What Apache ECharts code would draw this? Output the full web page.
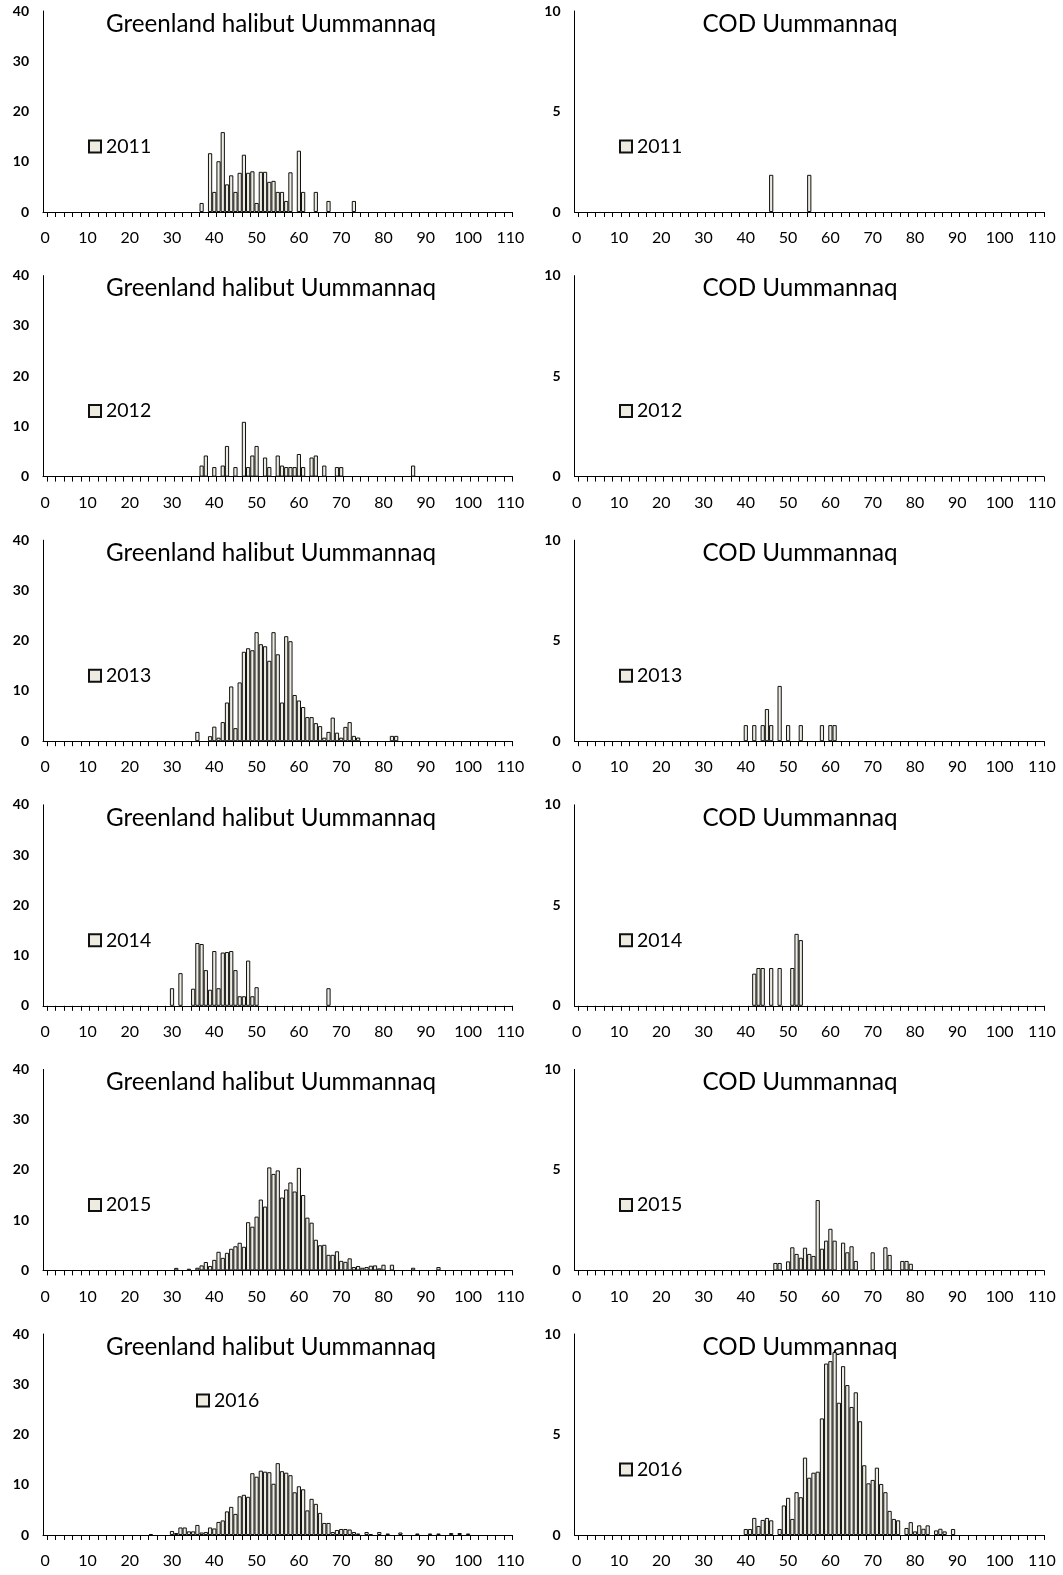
<!DOCTYPE html>
<html>
<head>
<meta charset="utf-8">
<script src="https://cdn.jsdelivr.net/npm/echarts@6/dist/echarts.min.js"></script>
<style>
  html, body { margin: 0; padding: 0; background: #ffffff; }
  #chart { width: 1063px; height: 1575px; }
</style>
</head>
<body>
<div id="chart"></div>
<script>
// Length classes (cm) shown on every x axis
const lengthClasses = Array.from({ length: 111 }, (_, i) => String(i));
const years = ['2011', '2012', '2013', '2014', '2015', '2016'];
const panelTitles = ['Greenland halibut Uummannaq', 'COD Uummannaq'];

// Greenland halibut length distributions: [length cm, value]
const GH_2011 = [[37,1.8],[39,11.7],[40,4.0],[41,10.1],[42,15.9],[43,5.5],[44,7.3],[45,4.0],[46,7.8],[47,11.4],[48,7.8],[49,8.1],[50,1.8],[51,8.0],[52,8.0],[53,6.0],[54,6.2],[55,4.0],[56,4.0],[57,2.2],[58,7.9],[60,12.2],[61,4.0],[64,4.0],[67,2.2],[73,2.2]];
const GH_2012 = [[37,2.2],[38,4.2],[40,1.9],[42,2.2],[43,6.1],[45,1.9],[47,10.9],[48,1.9],[49,4.2],[50,6.1],[52,3.8],[53,1.9],[55,4.2],[56,2.2],[57,1.9],[58,1.9],[59,1.9],[60,4.5],[61,1.9],[63,3.8],[64,4.2],[66,2.2],[69,1.9],[70,1.9],[87,2.2]];
const GH_2013 = [[36,1.85],[39,1.0],[40,2.9],[41,0.7],[42,3.8],[43,7.7],[44,10.9],[45,2.6],[46,11.7],[47,17.8],[48,18.5],[49,18.1],[50,21.7],[51,19.3],[52,18.9],[53,16.0],[54,21.7],[55,17.3],[56,7.7],[57,20.9],[58,19.9],[59,9.2],[60,8.1],[61,6.8],[62,4.8],[63,4.8],[64,3.6],[65,3.0],[66,0.7],[67,1.85],[68,4.7],[69,1.7],[70,0.7],[71,2.85],[72,3.8],[73,1.06],[74,0.73],[82,1.06],[83,1.06]];
const GH_2014 = [[30,3.5],[32,6.5],[35,3.4],[36,12.5],[37,12.3],[38,7.1],[39,3.2],[40,10.9],[41,3.5],[42,10.6],[43,10.7],[44,10.9],[45,7.1],[46,1.9],[47,1.9],[48,9.0],[49,1.9],[50,3.7],[67,3.5]];
const GH_2015 = [[31,0.5],[34,0.33],[36,0.53],[37,1.0],[38,1.67],[39,0.87],[40,2.1],[41,3.7],[42,2.5],[43,3.5],[44,4.3],[45,4.8],[46,5.5],[47,4.7],[48,9.6],[49,8.7],[50,10.7],[51,14.1],[52,12.7],[53,20.5],[54,19.2],[55,19.9],[56,14.5],[57,16.1],[58,17.5],[59,15.7],[60,20.4],[61,15.0],[62,10.5],[63,9.5],[64,6.1],[65,5.0],[66,5.1],[67,3.1],[68,3.1],[69,3.8],[70,1.9],[71,1.7],[72,2.4],[73,0.67],[74,0.87],[75,0.53],[76,0.67],[77,0.93],[78,1.0],[79,0.4],[80,1.13],[82,1.13],[87,0.53],[93,0.67]];
const GH_2016 = [[25,0.2],[30,0.8],[31,0.4],[32,1.5],[33,1.5],[34,0.73],[35,0.73],[36,2.0],[37,0.5],[38,0.6],[39,1.5],[40,1.3],[41,2.6],[42,2.9],[43,4.7],[44,5.6],[45,4.2],[46,7.7],[47,8.0],[48,7.6],[49,12.3],[50,11.6],[51,12.8],[52,12.6],[53,12.5],[54,10.2],[55,14.3],[56,12.7],[57,12.4],[58,11.9],[59,8.5],[60,9.7],[61,9.1],[62,4.9],[63,7.2],[64,6.2],[65,4.4],[66,2.4],[67,2.4],[68,0.6],[69,1.0],[70,1.2],[71,1.2],[72,1.1],[73,0.6],[74,0.3],[76,0.6],[77,0.2],[79,0.6],[81,0.3],[84,0.5],[88,0.3],[91,0.3],[93,0.3],[96,0.4],[98,0.4],[100,0.3]];

// Cod length distributions: [length cm, value]
const COD_2011 = [[46,1.85],[55,1.85]];
const COD_2012 = [];
const COD_2013 = [[40,0.8],[42,0.8],[44,0.8],[45,1.6],[46,0.8],[48,2.75],[50,0.8],[53,0.8],[58,0.8],[60,0.8],[61,0.8]];
const COD_2014 = [[42,1.6],[43,1.88],[44,1.88],[46,1.88],[48,1.88],[51,1.88],[52,3.58],[53,3.27]];
const COD_2015 = [[47,0.37],[48,0.37],[50,0.45],[51,1.15],[52,0.82],[53,0.63],[54,1.13],[55,0.82],[56,0.72],[57,3.5],[58,1.08],[59,1.48],[60,2.07],[61,1.48],[63,1.38],[64,0.9],[65,1.2],[66,0.47],[70,0.9],[73,1.15],[74,0.77],[77,0.47],[78,0.47],[79,0.33]];
const COD_2016 = [[40,0.3],[41,0.3],[42,0.85],[43,0.45],[44,0.75],[45,0.85],[46,0.73],[48,0.3],[49,1.47],[50,1.85],[51,0.8],[52,2.13],[53,1.88],[54,3.85],[55,2.85],[56,3.1],[57,3.15],[58,5.8],[59,8.53],[60,8.65],[61,9.1],[62,6.58],[63,8.4],[64,7.46],[65,6.37],[66,7.1],[67,5.66],[68,3.47],[69,2.57],[70,2.74],[71,3.35],[72,2.54],[73,2.13],[74,1.2],[75,0.8],[76,0.73],[78,0.35],[79,0.64],[80,0.18],[81,0.48],[82,0.31],[83,0.48],[85,0.23],[86,0.31],[87,0.18],[89,0.3]];

const halibutYears = [GH_2011, GH_2012, GH_2013, GH_2014, GH_2015, GH_2016];
const codYears = [COD_2011, COD_2012, COD_2013, COD_2014, COD_2015, COD_2016];

// y axis ranges per column (halibut, cod)
const yMax = [40, 10];
const yStep = [10, 5];

// Layout
const FONT = 'Lato, "Liberation Sans", Arial, sans-serif';
const BAR_FILL = '#EEECE1';
const ROW_TOP0 = 11, ROW_STEP = 264.6, PLOT_H = 201, PLOT_W = 469.5;
const COL_LEFT = [43, 574.5];
const TITLE_X = [271, 800];

function toSeriesData(pairs) {
  const out = lengthClasses.map(() => null);
  pairs.forEach(([len, v]) => { out[len] = v; });
  return out;
}

const grids = [], xAxes = [], yAxes = [], series = [], legends = [], graphics = [];

for (let r = 0; r < 6; r++) {
  for (let c = 0; c < 2; c++) {
    const idx = r * 2 + c;
    const top = ROW_TOP0 + ROW_STEP * r;
    const base = top + PLOT_H;
    grids.push({ left: COL_LEFT[c], top: top, width: PLOT_W, height: PLOT_H, outerBoundsMode: 'none', containLabel: false });
    xAxes.push({
      type: 'category', gridIndex: idx, data: lengthClasses, boundaryGap: true,
      axisLine: { show: true, lineStyle: { color: '#000', width: 1 } },
      axisTick: { show: true, length: 5, interval: (i) => i % 2 === 1, lineStyle: { color: '#000', width: 1 } },
      axisLabel: { interval: 9, fontFamily: FONT, fontSize: 16, color: '#000', margin: 18, hideOverlap: false },
      splitLine: { show: false }
    });
    yAxes.push({
      type: 'value', gridIndex: idx, min: 0, max: yMax[c], interval: yStep[c],
      axisLine: { show: true, lineStyle: { color: '#000', width: 1 } },
      axisTick: { show: false },
      axisLabel: { fontFamily: FONT, fontSize: 14, fontWeight: 'bold', color: '#000', margin: 14 },
      splitLine: { show: false }
    });
    const pairs = c === 0 ? halibutYears[r] : codYears[r];
    series.push({
      type: 'bar', name: years[r], xAxisIndex: idx, yAxisIndex: idx,
      data: toSeriesData(pairs), barCategoryGap: '0%', barGap: '0%',
      itemStyle: { color: BAR_FILL, borderColor: '#111', borderWidth: 1 },
      emphasis: { disabled: true }, silent: true
    });
    // legend key: the 2016 halibut key sits higher in its panel
    const lift = (r === 5 && c === 0) ? 134.5 : 65.5;
    const lx = c === 0 ? (r === 5 ? 196 : 88) : 619;
    legends.push({
      data: [years[r]], left: lx, top: base - lift - 11, padding: 0,
      icon: 'rect', itemWidth: 12, itemHeight: 12, itemGap: 0, selectedMode: false,
      textStyle: { fontFamily: FONT, fontSize: 19.5, color: '#000', lineHeight: 22 }
    });
    graphics.push({
      type: 'text', x: TITLE_X[c], y: top + 13, silent: true,
      style: { text: panelTitles[c], font: '24.2px ' + FONT, fill: '#000', textAlign: 'center', textVerticalAlign: 'middle' }
    });
  }
}

const chart = echarts.init(document.getElementById('chart'), null, { renderer: 'canvas' });
chart.setOption({
  animation: false,
  backgroundColor: '#ffffff',
  grid: grids, xAxis: xAxes, yAxis: yAxes, series: series, legend: legends,
  graphic: graphics,
  tooltip: { show: false }
});
</script>
</body>
</html>
